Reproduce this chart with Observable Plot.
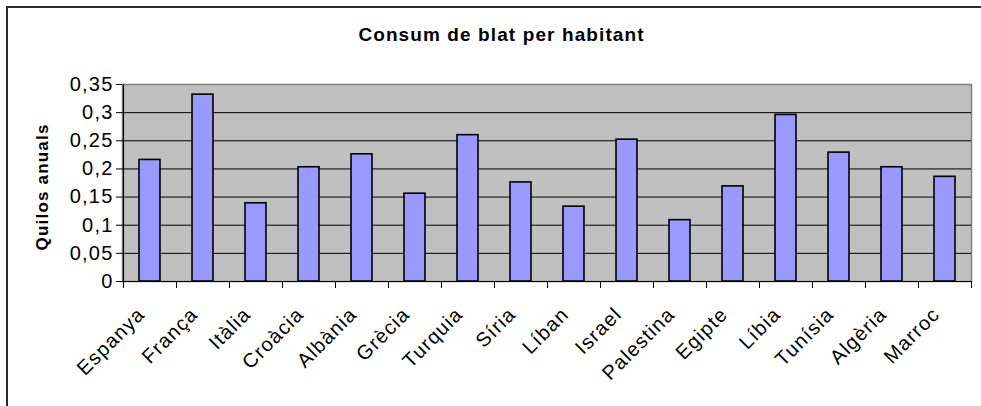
<!DOCTYPE html>
<html>
<head>
<meta charset="utf-8">
<script src="https://cdn.jsdelivr.net/npm/d3@7"></script>
<script src="https://cdn.jsdelivr.net/npm/@observablehq/plot@0.6"></script>
<style>
  html, body { margin: 0; padding: 0; background: #fff; }
  body { width: 981px; height: 406px; overflow: hidden; position: relative; }
  #border { position: absolute; left: 6px; top: 6px; width: 1000px; height: 500px;
            border-top: 2px solid #2a2a2a; border-left: 2px solid #2a2a2a; }
  #title { position: absolute; left: 0; top: 25px; width: 1003px; text-align: center;
           font-family: "Liberation Sans", Arial, sans-serif; font-weight: bold; font-size: 19px;
           line-height: 19px; letter-spacing: 1.1px; color: #000; }
  #chart { position: absolute; left: 0; top: 0; }
</style>
</head>
<body>
<div id="border"></div>
<div id="chart"></div>
<div id="title">Consum de blat per habitant</div>
<script>
const countries = ["Espanya", "França", "Itàlia", "Croàcia", "Albània", "Grècia", "Turquia", "Síria",
                   "Líban", "Israel", "Palestina", "Egipte", "Líbia", "Tunísia", "Algèria", "Marroc"];
const consum = [0.216, 0.332, 0.139, 0.203, 0.226, 0.156, 0.26, 0.176,
                0.133, 0.252, 0.109, 0.169, 0.296, 0.229, 0.203, 0.186];
const yTicks = [0, 0.05, 0.1, 0.15, 0.2, 0.25, 0.3, 0.35];
const yLabel = "Quilos anuals";

const W = 981, H = 406, ML = 122, MR = 10, MT = 84, MB = 125;
const step = (W - ML - MR) / countries.length;
const data = countries.map((c, i) => ({country: c, value: consum[i]}));

const chart = Plot.plot({
  width: W, height: H,
  marginLeft: ML, marginRight: MR, marginTop: MT, marginBottom: MB,
  style: {fontFamily: "'Liberation Sans', Arial, sans-serif", fontSize: "20px", color: "#000",
          background: "transparent", letterSpacing: "1.2px"},
  x: {type: "band", domain: countries, paddingInner: 0.61, paddingOuter: 0.305, axis: null},
  y: {domain: [0, 0.35], axis: null},
  marks: [
    Plot.frame({fill: "#c0c0c0", stroke: "#808080", strokeWidth: 1.5}),
    Plot.ruleY(yTicks.slice(1, -1), {stroke: "#000", strokeWidth: 1}),
    Plot.barY(data, {x: "country", y: "value", fill: "#9999ff", stroke: "#000", strokeWidth: 1.6}),
    Plot.ruleY([0], {stroke: "#000", strokeWidth: 1.2}),
    Plot.ruleX([countries[0]], {x: d => d, dx: -step / 2, stroke: "#000", strokeWidth: 1.2}),
    Plot.axisY({ticks: yTicks, tickFormat: d => String(d).replace(".", ","), tickSize: 6, tickPadding: 3,
                label: null, fontSize: 20}),
    Plot.ruleX(countries, {x: d => d, y1: 0, y2: 0, insetTop: 7, dx: -step / 2, stroke: "#000"}),
    Plot.ruleX([countries[countries.length - 1]], {x: d => d, y1: 0, y2: 0, insetTop: 7, dx: step / 2, stroke: "#000"}),
    Plot.text(countries, {x: d => d, frameAnchor: "bottom", dx: -14, dy: 24, rotate: -45,
                          textAnchor: "end", lineAnchor: "top", fontSize: 20}),
    Plot.text([yLabel], {y: [0.168], frameAnchor: "left", dx: -80, rotate: -90, textAnchor: "middle",
                         fontWeight: "bold", fontSize: 17, letterSpacing: "1px"})
  ]
});
document.getElementById("chart").appendChild(chart);
</script>
</body>
</html>
